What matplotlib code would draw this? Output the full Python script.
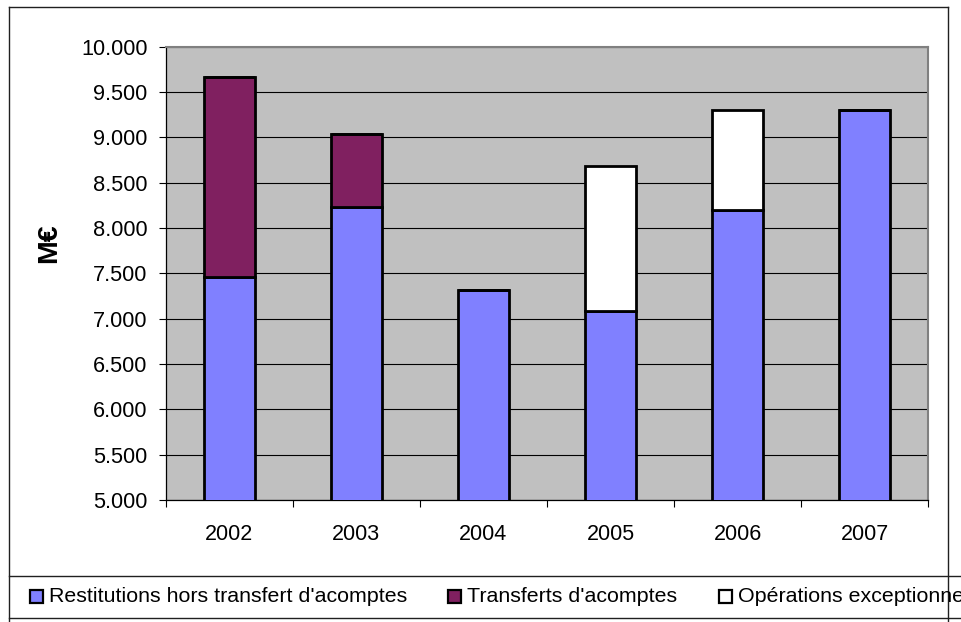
import matplotlib
matplotlib.use("Agg")
import matplotlib.pyplot as plt
from matplotlib.patches import Rectangle
from matplotlib.lines import Line2D
import numpy as np

plt.rcParams['font.family'] = ['Liberation Sans', 'DejaVu Sans']

years = ["2002", "2003", "2004", "2005", "2006", "2007"]
restitutions = [7460, 8235, 7315, 7085, 8200, 9300]
transferts = [2205, 800, 0, 0, 0, 0]
exceptionnelles = [0, 0, 0, 1595, 1105, 0]
series_names = ["Restitutions hors transfert d'acomptes",
                "Transferts d'acomptes",
                "Opérations exceptionnelles"]
series_colors = ["#8080FF", "#802060", "#FFFFFF"]
yticks = np.arange(5000, 10001, 500)

W, H = 961, 622
fig = plt.figure(figsize=(W / 100, H / 100), dpi=100)

def fx(x):
    return x / W

def fy(y):
    return 1 - y / H

ax = fig.add_axes([fx(165.7), fy(500), fx(928.3) - fx(165.7), fy(46.7) - fy(500)])
ax.set_facecolor("#C0C0C0")

x = np.arange(len(years))
bottom = np.zeros(len(years))
for vals, col in zip([restitutions, transferts, exceptionnelles], series_colors):
    ax.bar(x, vals, 0.4, bottom=bottom, color=col, edgecolor="black", linewidth=2.0, zorder=3)
    bottom += np.array(vals)

ax.set_xlim(-0.5, len(years) - 0.5)
ax.set_ylim(5000, 10000)
ax.set_yticks(yticks)
ax.set_yticklabels([f"{v:,}".replace(",", ".") for v in yticks])
ax.yaxis.grid(True, color="black", linewidth=0.8)
ax.set_axisbelow(True)

ax.set_xticks(x)
ax.set_xticklabels(years)
ax.set_xticks(np.arange(-0.5, len(years)), minor=True)
ax.tick_params(axis="x", which="major", length=0, pad=17, labelsize=15.5)
ax.tick_params(axis="x", which="minor", length=5, width=0.8, direction="out")
ax.tick_params(axis="y", length=5, width=0.8, direction="out", pad=8, labelsize=15.7)

for s in ["top", "right"]:
    ax.spines[s].set_color("#808080")
    ax.spines[s].set_linewidth(1.5)
for s in ["left", "bottom"]:
    ax.spines[s].set_color("black")
    ax.spines[s].set_linewidth(0.9)

fig.text(fx(49), fy(243), "M€", rotation=90, ha="center", va="center",
         fontsize=20.5, fontweight="bold")

# chart and legend borders
lc = "#202020"
for xs, ys in [([9, 947.7], [6.7, 6.7]),
               ([9, 9], [6.7, 622]),
               ([947.7, 947.7], [6.7, 622]),
               ([9, 961], [575.7, 575.7]),
               ([9, 961], [617.7, 617.7])]:
    fig.add_artist(Line2D([fx(v) for v in xs], [fy(v) for v in ys], color=lc, linewidth=1.0))

# legend (the last label runs past the right edge, as in the original)
marker_x = [30, 448, 719]
for name, col, mx in zip(series_names, series_colors, marker_x):
    fig.add_artist(Rectangle((fx(mx), fy(603)), fx(13), 13 / H, facecolor=col,
                             edgecolor="black", linewidth=1.6))
    fig.text(fx(mx + 19), fy(597), name, ha="left", va="center", fontsize=15.4)

fig.savefig("out.png", dpi=100)
